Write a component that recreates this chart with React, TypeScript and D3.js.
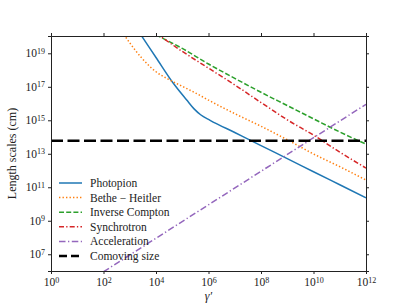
import * as d3 from 'd3'
import React, { useRef, useEffect } from 'react'

// gamma' grid shared by the loss curves
const gammaGrid = [1e4, 1e5, 1e6, 1e7, 1e8, 1e9, 1e10, 1e11, 1e12]

const photopionGamma = [2e3, 2.85e3, 1e4, 4.57e4, 1.48e5, 2.82e5, 5.0e5, 1.15e6, 1e7, 1e8, 1e9, 1e10, 1e11, 1e12]
const photopionLength = [2.45e20, 1.07e20, 5.6e18, 1.62e17, 1.62e16, 4.8e15, 2.14e15, 1.0e15, 1.86e14, 3.1e13, 5.1e12, 8.5e11, 1.41e11, 2.34e10]

const betheGamma = [5e2, 1e3, 3e3, 1e4, 3e4, 1e5, 3e5, 1e6, 1e7, 1e8, 1e9, 1e10, 1e11, 1e12]
const betheLength = [2.0e20, 4.2e19, 4.8e18, 7.9e17, 2.8e17, 1.07e17, 4.5e16, 1.6e16, 2.5e15, 4.4e14, 6.9e13, 9.8e12, 1.7e12, 2.7e11]

const icLength = [1.26e20, 1.95e19, 2.3e18, 3.2e17, 4.7e16, 7.6e15, 1.23e15, 2.0e14, 3.8e13]
const synchLength = [1.6e20, 1.3e19, 1.3e18, 1.3e17, 1.15e16, 1.07e15, 1.3e14, 1.26e13, 1.4e12]

const accelGamma = [1e2, 1e12]
const accelLength = [9e5, 9e15]

const comovingGamma = [1, 1e12]
const comovingLength = [6e13, 6e13]

const xTicks = [1e0, 1e2, 1e4, 1e6, 1e8, 1e10, 1e12]
const yTicks = [1e7, 1e9, 1e11, 1e13, 1e15, 1e17, 1e19]

const FONT = "'Liberation Serif', 'DejaVu Serif', serif"

const App = () => {
  const ref = useRef(null)

  useEffect(() => {
    draw()
  }, [])

  const draw = () => {
    const totalWidth = 407
    const totalHeight = 305
    const margin = { top: 36, right: 41, bottom: 34, left: 51 }
    const width = totalWidth - margin.left - margin.right
    const height = totalHeight - margin.top - margin.bottom

    const svg = d3.select(ref.current)
    svg.selectAll('*').remove()

    const xScale = d3.scaleLog().domain([1, 1e12]).range([0, width])
    const yScale = d3.scaleLog().domain([1e6, 1.08e20]).range([height, 0])

    const g = svg.append('g').attr('transform', 'translate(' + margin.left + ',' + margin.top + ')')

    g.append('clipPath')
      .attr('id', 'plot-clip')
      .append('rect')
      .attr('width', width)
      .attr('height', height)

    const series = [
      { name: 'Photopion', x: photopionGamma, y: photopionLength, color: '#1f77b4', dash: null, w: 1.5 },
      { name: 'Bethe \u2212 Heitler', x: betheGamma, y: betheLength, color: '#ff7f0e', dash: '1.4,2.1', w: 1.5 },
      { name: 'Inverse Compton', x: gammaGrid, y: icLength, color: '#2ca02c', dash: '5,2.2', w: 1.5 },
      { name: 'Synchrotron', x: gammaGrid, y: synchLength, color: '#d62728', dash: '5,2.2,1.3,2.2', w: 1.5 },
      { name: 'Acceleration', x: accelGamma, y: accelLength, color: '#9467bd', dash: '6.5,2.5,1.3,2.5', w: 1.5 },
      { name: 'Comoving size', x: comovingGamma, y: comovingLength, color: '#000000', dash: '12,4.5', w: 2.5 },
    ]

    const line = d3
      .line()
      .x((d: any) => xScale(d[0]))
      .y((d: any) => yScale(d[1]))
      .curve(d3.curveMonotoneX)

    const plot = g.append('g').attr('clip-path', 'url(#plot-clip)')
    series.forEach((s) => {
      const pts = s.x.map((v, i) => [v, s.y[i]])
      plot
        .append('path')
        .datum(pts)
        .attr('fill', 'none')
        .attr('stroke', s.color)
        .attr('stroke-width', s.w)
        .attr('stroke-dasharray', s.dash)
        .attr('d', line as any)
    })

    // axes
    const expOf = (d: any) => Math.round(Math.log10(d))
    const supLabels = (sel: any) => {
      sel.selectAll('.tick text').each(function (d: any) {
        const t = d3.select(this as any)
        t.text('10')
        t.append('tspan').attr('dy', '-0.45em').attr('font-size', '8px').text(expOf(d))
      })
    }

    const xAxis = g
      .append('g')
      .attr('transform', 'translate(0,' + height + ')')
      .call(d3.axisBottom(xScale).tickValues(xTicks).tickSize(3).tickPadding(4).tickFormat(() => ''))
    supLabels(xAxis)

    const yAxis = g.append('g').call(d3.axisLeft(yScale).tickValues(yTicks).tickSize(3).tickPadding(3).tickFormat(() => ''))
    supLabels(yAxis)

    g.append('g').call(d3.axisTop(xScale).tickValues(xTicks.slice(1, -1)).tickSize(3).tickFormat(() => ''))
    g.append('g')
      .attr('transform', 'translate(' + width + ',0)')
      .call(d3.axisRight(yScale).tickValues(yTicks).tickSize(3).tickFormat(() => ''))

    g.selectAll('.domain').attr('stroke', '#222').attr('stroke-width', 1)
    g.selectAll('.tick line').attr('stroke', '#222')
    g.selectAll('g').attr('font-family', FONT).attr('font-size', 11.5)
    g.selectAll('.tick text').attr('fill', '#222')

    // axis titles
    svg
      .append('text')
      .attr('x', margin.left + width / 2)
      .attr('y', 300)
      .attr('text-anchor', 'middle')
      .attr('font-family', FONT)
      .attr('font-style', 'italic')
      .attr('font-size', '12px')
      .attr('fill', '#222')
      .text('\u03b3\u2032')

    svg
      .append('text')
      .attr('transform', 'translate(16,' + (margin.top + height / 2) + ') rotate(-90)')
      .attr('text-anchor', 'middle')
      .attr('font-family', FONT)
      .attr('font-size', '12px')
      .attr('fill', '#222')
      .text('Length scales (cm)')

    // legend
    const legend = svg.append('g').attr('transform', 'translate(59,183)')
    series.forEach((s, i) => {
      const row = legend.append('g').attr('transform', 'translate(0,' + i * 14.6 + ')')
      row
        .append('line')
        .attr('x1', 0)
        .attr('x2', 23)
        .attr('stroke', s.color)
        .attr('stroke-width', s.w)
        .attr('stroke-dasharray', s.dash && s.w > 2 ? '8,4' : s.dash)
      row
        .append('text')
        .attr('x', 31)
        .attr('y', 4)
        .attr('font-family', FONT)
        .attr('font-size', '11.5px')
        .attr('fill', '#222')
        .text(s.name)
    })
  }

  return (
    <svg
      ref={ref}
      width={407}
      height={305}
      style={{ position: 'absolute', left: 0, top: 0, background: '#fff' }}
    />
  )
}

export default App
